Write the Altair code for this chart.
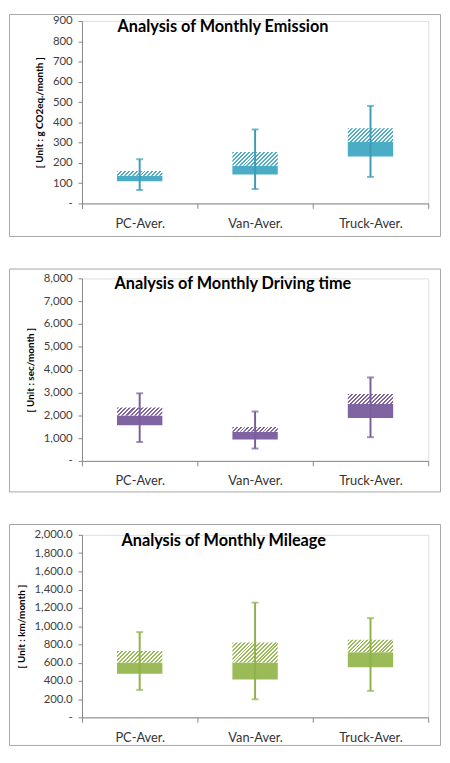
import altair as alt
import pandas as pd

# ---------------- data ----------------
categories = ["PC-Aver.", "Van-Aver.", "Truck-Aver."]

# Monthly emission (g CO2eq./month)
em_min = [66, 71, 131]
em_q1 = [109, 143, 231]
em_med = [136, 186, 303]
em_q3 = [160, 254, 371]
em_max = [218, 365, 481]

# Monthly driving time (sec/month)
dt_min = [826, 541, 1039]
dt_q1 = [1566, 940, 1879]
dt_med = [1993, 1281, 2491]
dt_q3 = [2335, 1480, 2932]
dt_max = [2961, 2164, 3658]

# Monthly mileage (km/month)
ml_min = [301, 198, 290]
ml_q1 = [478, 414, 549]
ml_med = [602, 602, 712]
ml_q3 = [726, 821, 850]
ml_max = [934, 1257, 1087]

FONT = "Lato"
BAR_W = 46


def stripes(color, w, h, period=4.0):
    s = (w + h) / (w * w + h * h)
    n = max(1, round((w + h) / period))
    stops = []
    for k in range(n):
        a = k / n
        b = (k + 0.5) / n
        c = (k + 1) / n
        stops += [
            alt.GradientStop(color=color, offset=a),
            alt.GradientStop(color=color, offset=b),
            alt.GradientStop(color="#ffffff", offset=b),
            alt.GradientStop(color="#ffffff", offset=c),
        ]
    return alt.LinearGradient(gradient="linear", stops=stops,
                              x1=0, y1=0, x2=w * s, y2=h * s)


def panel(lo, q1, med, q3, hi, ymax, ystep, label_expr, ytitle, title,
          color, wcolor, title_x, plot_w, plot_h, left_m, right_m, top_m, bottom_m,
          title_pad):
    df = pd.DataFrame({"cat": categories, "lo": lo, "q1": q1, "med": med,
                       "q3": q3, "hi": hi})
    xenc = alt.X("cat:N", sort=categories,
                 scale=alt.Scale(paddingInner=0, paddingOuter=0),
                 axis=alt.Axis(title=None, labelAngle=0, tickBand="extent",
                               tickSize=5, tickColor="#868686",
                               domainColor="#868686", labelFont=FONT,
                               labelFontSize=13, labelColor="#333333",
                               labelPadding=9, grid=False))

    def yenc(field):
        return alt.Y(field + ":Q",
                     scale=alt.Scale(domain=[0, ymax], nice=False, zero=True),
                     axis=alt.Axis(values=list(range(0, ymax + 1, ystep)),
                                   labelExpr=label_expr, title=ytitle,
                                   titleFont=FONT, titleFontSize=10,
                                   titleFontWeight="bold", titleColor="#000000",
                                   titlePadding=title_pad,
                                   labelFont=FONT, labelFontSize=11.5,
                                   labelColor="#404040", labelPadding=6,
                                   tickSize=4, tickColor="#868686",
                                   domainColor="#868686", grid=False))

    base = alt.Chart(df)
    dotted = base.mark_bar(size=BAR_W, color=color).encode(
        x=xenc, y=yenc("q1"), y2="med:Q")

    layers = [dotted]
    for i, c in enumerate(categories):
        h = (q3[i] - med[i]) / ymax * plot_h
        layers.append(
            base.transform_filter(alt.datum.cat == c)
            .mark_bar(size=BAR_W, fill=stripes(color, BAR_W, h))
            .encode(x=xenc, y=yenc("med"), y2="q3:Q"))

    whisk = base.mark_rule(color=wcolor, strokeWidth=2).encode(
        x=xenc, y=yenc("lo"), y2="hi:Q")
    cap_lo = base.mark_tick(color=wcolor, size=7, thickness=2).encode(
        x=xenc, y=yenc("lo"))
    cap_hi = base.mark_tick(color=wcolor, size=7, thickness=2).encode(
        x=xenc, y=yenc("hi"))
    layers += [whisk, cap_lo, cap_hi]

    ttl = alt.Chart(pd.DataFrame({"t": [title]})).mark_text(
        align="left", baseline="middle", font=FONT, fontSize=16.5,
        fontWeight="bold", color="#000000").encode(
        text="t:N", x=alt.value(title_x), y=alt.value(6))

    frame = alt.Chart(pd.DataFrame({"a": [0]})).mark_rect(
        fill="transparent", stroke="#a6a6a6", strokeWidth=1).encode(
        x=alt.value(-left_m + 0.5), x2=alt.value(plot_w + right_m - 0.5),
        y=alt.value(-top_m + 0.5), y2=alt.value(plot_h + bottom_m - 0.5))

    return alt.layer(frame, *layers, ttl).properties(width=plot_w, height=plot_h)


p1 = panel(em_min, em_q1, em_med, em_q3, em_max, 900, 100,
           "datum.value == 0 ? '-' : format(datum.value, 'd')",
           "[ Unit : g CO2eq./month ]", "Analysis of Monthly Emission",
           "#4BACC6", "#3E9CB6", 36, 351, 185, 74, 13, 7, 34, 8)
p2 = panel(dt_min, dt_q1, dt_med, dt_q3, dt_max, 8000, 1000,
           "datum.value == 0 ? '-' : format(datum.value, ',d')",
           "[ Unit : sec/month ]", "Analysis of Monthly Driving time",
           "#8064A2", "#7A5E9C", 33, 351, 185, 74, 13, 10, 32, 8)
p3 = panel(ml_min, ml_q1, ml_med, ml_q3, ml_max, 2000, 200,
           "datum.value == 0 ? '-' : format(datum.value, ',.1f')",
           "[ Unit : km/month ]", "Analysis of Monthly Mileage",
           "#9BBB59", "#8FB24C", 40, 351, 185, 74, 13, 11, 29, 8)

chart = alt.vconcat(p1, p2, p3, spacing=30).properties(padding=0).configure_view(
    strokeWidth=0).configure(background="white")

chart.save("out.html", embed_options={"renderer": "svg", "actions": False})
